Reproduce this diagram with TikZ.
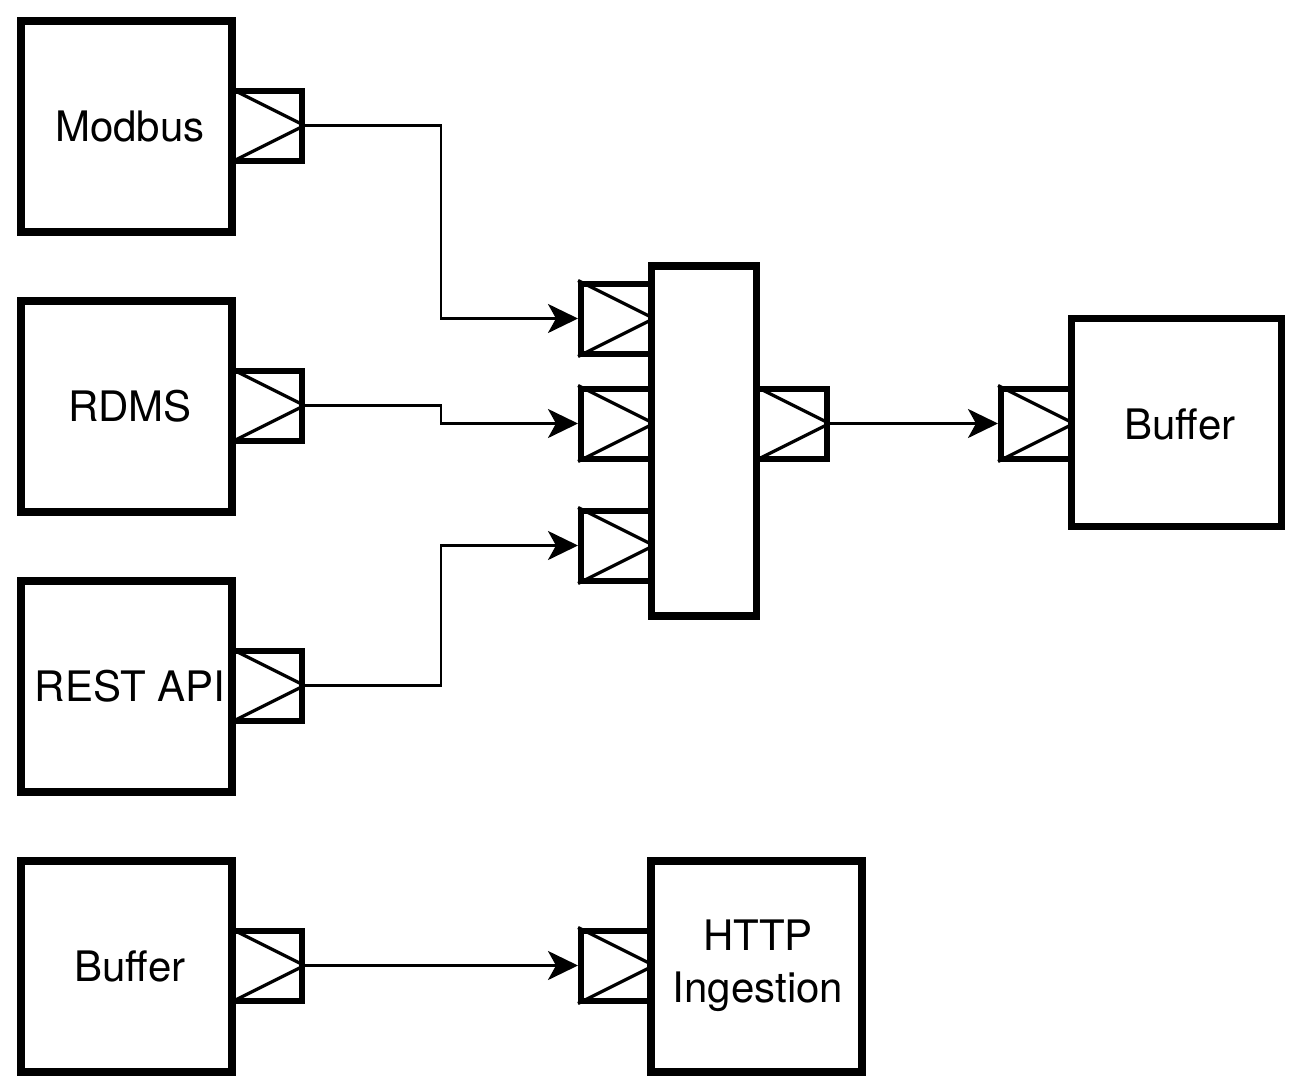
\documentclass[tikz,border=0pt]{standalone}
\usepackage{fontspec}
\setmainfont{TeX Gyre Heros}
\usetikzlibrary{arrows.meta}
\begin{document}
\begin{tikzpicture}[x=0.5pt,y=-0.5pt,
  lbl/.style={font=\fontsize{21pt}{26pt}\selectfont, align=center},
  box/.style={draw, line width=3.6pt, fill=white, inner sep=0pt},
  portbox/.style={draw, line width=3pt, fill=white, inner sep=0pt, minimum width=35pt, minimum height=35pt},
  tri/.style={line width=1.6pt, line join=miter},
  conn/.style={line width=1.4pt, -{Stealth[length=15pt,width=14.5pt,inset=4pt]}}
]
\useasboundingbox (0,0) rectangle (1308,1088);
% ports
\node[portbox] (pm) at (266.5,125.5) {};
\node[portbox] (pr) at (266.5,405.5) {};
\node[portbox] (pa) at (266.5,685.5) {};
\node[portbox] (pb) at (266.5,965.5) {};
\node[portbox] (i1) at (616,318.5) {};
\node[portbox] (i2) at (616,423.5) {};
\node[portbox] (i3) at (616,545.5) {};
\node[portbox] (po) at (791.5,423.5) {};
\node[portbox] (ib) at (1036,423.5) {};
\node[portbox] (ih) at (616,965.5) {};
% triangles
\foreach \p in {pm,pr,pa,pb,i1,i2,i3,po,ib,ih}
  \draw[tri] (\p.north west) -- (\p.east) -- (\p.south west);
% boxes
\node[box, minimum width=105.5pt, minimum height=105.5pt] (modbus) at (126.5,126.5) {};
\node[box, minimum width=105.5pt, minimum height=105.5pt] (rdms) at (126.5,406.5) {};
\node[box, minimum width=105.5pt, minimum height=105.5pt] (rest) at (126.5,686.5) {};
\node[box, minimum width=105.5pt, minimum height=105.5pt] (bufl) at (126.5,966.5) {};
\node[box, minimum width=52.5pt, minimum height=175pt] (mux) at (703.75,441) {};
\node[box, minimum width=105pt, minimum height=104pt] (bufr) at (1176.25,422.5) {};
\node[box, minimum width=105.5pt, minimum height=105.5pt] (http) at (756.5,966.5) {};
% labels
\node[lbl] (tm) at (130,126) {Modbus};
\node[lbl] (tr) at (130,406) {RDMS};
\node[lbl] (ta) at (130,686) {REST API};
\node[lbl] (tb) at (130,966) {Buffer};
\node[lbl] (tbr) at (1180,424) {Buffer};
\node[lbl] (th) at (758,966) {HTTP\\Ingestion};
% connectors
\draw[conn] (pm.east) -- (441,125.5) -- (441,318.5) -- (i1.west);
\draw[conn] (pr.east) -- (441,405.5) -- (441,423.5) -- (i2.west);
\draw[conn] (pa.east) -- (441,685.5) -- (441,545.5) -- (i3.west);
\draw[conn] (po.east) -- (ib.west);
\draw[conn] (pb.east) -- (ih.west);
\end{tikzpicture}
\end{document}
